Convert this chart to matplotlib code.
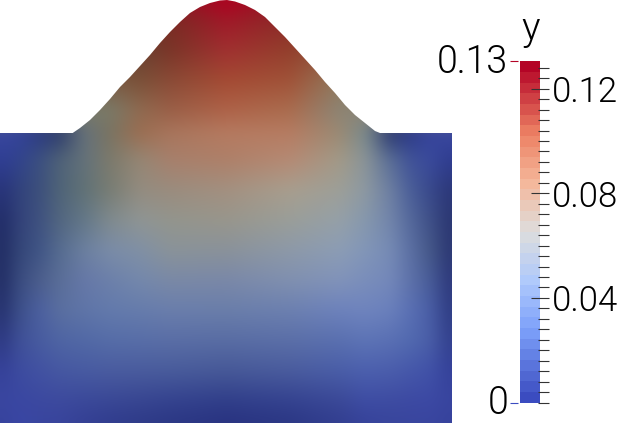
import numpy as np
import matplotlib
matplotlib.use("Agg")
import matplotlib.pyplot as plt
from matplotlib.colors import LinearSegmentedColormap, to_rgb
from matplotlib.patches import Polygon

W, H = 617, 423
FONT = "Roboto"
WEIGHT = 300

# Field colours (rows top to bottom, columns left to right)
field_x = [0, 20, 40, 60, 85, 110, 140, 170, 226, 290, 340, 365, 390, 410, 430, 452]
field_y = [0, 20, 50, 80, 110, 133, 160, 190, 220, 250, 280, 310, 340, 370, 400, 423]
field_hex = [
    "#6a3a28 #6a3a28 #6a3a28 #6a3a28 #6a3a28 #6a3a28 #6a3a28 #8c1a26 #b00020 #8c1a26 #7a4a30 #7a4a30 #7a4a30 #7a4a30 #7a4a30 #7a4a30",
    "#6a3a28 #6a3a28 #6a3a28 #6a3a28 #6a3a28 #6a3a28 #6a3a28 #7a2a24 #a01828 #8a2c28 #7a4a30 #7a4a30 #7a4a30 #7a4a30 #7a4a30 #7a4a30",
    "#6a4030 #6a4030 #6a4030 #6a4030 #6a4030 #6a4030 #6a4030 #7a3528 #a03030 #933f2c #8f5a40 #8f5a40 #8f5a40 #8f5a40 #8f5a40 #8f5a40",
    "#7a5a42 #7a5a42 #7a5a42 #7a5a42 #7a5a42 #7a5a42 #7a5038 #8a4a36 #a44a33 #a05238 #907a5c #907a5c #907a5c #907a5c #907a5c #907a5c",
    "#7a7a68 #7a7a68 #7a7a68 #7a7a68 #7a7a68 #7a7a68 #8f6a50 #9a5f47 #ae6248 #aa6c4e #8c8474 #8c8474 #8c8474 #8c8474 #8c8474 #8c8474",
    "#3a48a0 #33429a #2c3b82 #2e3d6c #65717a #7a7462 #9b6e52 #a8755c #b57a60 #b67c62 #9a8a74 #7a8a8c #2c3a70 #2c3a88 #36449c #3a48a0",
    "#2f3d95 #32448c #3c5080 #4f6278 #64727a #7c7a6c #958674 #a7806c #ae8069 #b58a74 #a29a88 #8a9498 #5a6e96 #415398 #3a4a9c #2e3b8e",
    "#26317a #32437c #3d507c #4f6478 #617276 #787d74 #938c80 #9a8c7e #a39080 #a89e8e #9d9f98 #8d99a2 #6d7fa2 #4b5f99 #39498c #2a3576",
    "#1f2a66 #33427a #3f5280 #526680 #647888 #7f8a8e #8f9594 #93958d #98968c #9a9e99 #95a0a8 #8698ad #7285ab #55699c #3f5088 #28336f",
    "#1f2a62 #344678 #405586 #566c90 #6c80a0 #7a8ca8 #8090a5 #8a9399 #8a929a #8d99a8 #8c9db5 #8296b8 #768bb5 #5c70a4 #455888 #283370",
    "#1f2a62 #3a4c80 #4c5e8c #5a6e98 #6678a8 #6c80aa #7488ac #7a89a6 #7a88a8 #8090b0 #8193ba #7a8ebb #7488ba #5e72aa #485c98 #2a3478",
    "#232e6c #3d508a #4c60a0 #5a6fa0 #5f75a8 #637aac #667cac #6a7eac #6a7eaa #6c80b0 #6d82bc #6f84be #6a80bc #5a70b4 #4a5ea6 #2b387f",
    "#2b3680 #3f5098 #485ca0 #4f65a4 #5269a6 #566da8 #586ea8 #5a6ea6 #596da4 #5b6fa8 #5a70b0 #5d74b6 #5a70b4 #526ab0 #4a5ea8 #2f3c8a",
    "#343f98 #3d4ca0 #4252a2 #4658a2 #485ba2 #4a5ca0 #4a5c9e #495c9c #475998 #4a5c9e #4a5ea8 #4c60ae #4b5eac #4658aa #4152a8 #333f98",
    "#3a46a0 #3a47a2 #3c49a0 #3d4a9e #3b499a #3a4896 #384692 #35438f #313f8a #354390 #3b4998 #3e4da4 #3e4ca2 #3d4aa3 #3c49a4 #38449e",
    "#36429c #3a46a4 #39459f #38449c #343f94 #303c8e #2e3a88 #2b3784 #283280 #2b3784 #323e90 #36429a #38459c #39459e #39459f #36429c",
]

# Outline of the deformed top edge, read point by point
outline_x = [0, 72.7, 80, 90, 100, 110, 120, 130, 140, 150, 160, 170, 180, 190, 200, 210, 220, 227,
             235, 245, 255, 265, 275, 285, 295, 305, 315, 325, 335, 345, 355, 365, 375, 380, 452]
outline_y = [133, 133, 128, 120, 110, 99, 87, 77, 66, 55, 43, 32, 22, 13, 7, 3, 0.5, 0,
             1.5, 5, 10, 17, 27, 37, 48, 59, 70, 82, 93, 105, 115, 123, 131, 133, 133]

# Colour bar
y_max = 0.1304
bar_levels = 32
bar_stops = [0.0, 0.2, 0.35, 0.5, 0.65, 0.8, 1.0]
bar_colors = ["#3b4cc0", "#7b9ff9", "#aec9fc", "#dddddd", "#f5b79a", "#ec7f63", "#b40426"]
major_ticks = [0.04, 0.08, 0.12]
major_labels = ["0.04", "0.08", "0.12"]
minor_step_count = 33
title = "y"
range_labels = ["0", "0.13"]

fig = plt.figure(figsize=(W / 100, H / 100), dpi=100)
fig.patch.set_facecolor("white")

# ---- field ----
ax = fig.add_axes([0, 0, 452 / W, 1])
rgb = np.array([[to_rgb(c) for c in row.split()] for row in field_hex])

# resample the sampled colours onto a pixel raster and soften them
px = np.arange(452) + 0.5
py = np.arange(423) + 0.5
cols = np.stack([np.interp(px, field_x, rgb[i, :, k]) for i in range(rgb.shape[0]) for k in range(3)])
cols = cols.reshape(rgb.shape[0], 3, -1)
img = np.stack([[np.interp(py, field_y, cols[:, k, j]) for j in range(px.size)] for k in range(3)], axis=-1)
img = img.transpose(1, 0, 2)
sigma = 6.0
r = int(3 * sigma)
kernel = np.exp(-0.5 * (np.arange(-r, r + 1) / sigma) ** 2)
kernel /= kernel.sum()
def smooth(a, axis):
    return np.apply_along_axis(lambda v: np.convolve(np.pad(v, r, mode="reflect"), kernel, mode="valid"), axis, a)
for k in range(3):
    img[..., k] = smooth(smooth(img[..., k], 0), 1)

im = ax.imshow(img, extent=(0, 452, 423, 0), aspect="auto", interpolation="bilinear")
ax.set_xlim(0, 452)
ax.set_ylim(423, 0)
ax.axis("off")
poly = Polygon(list(zip(outline_x, outline_y)) + [(452, 423), (0, 423)],
               closed=True, transform=ax.transData, facecolor="none", edgecolor="none")
ax.add_patch(poly)
im.set_clip_path(poly)

# ---- colour bar ----
px_top, px_bot = 61.5, 402.5
cax = fig.add_axes([520 / W, 1 - px_bot / H, 29 / W, (px_bot - px_top) / H])
cax.set_xlim(0, 29)
cax.set_ylim(0, y_max)
for s in cax.spines.values():
    s.set_visible(False)
cmap = LinearSegmentedColormap.from_list("cw", list(zip(bar_stops, bar_colors)), N=bar_levels)
edges = np.linspace(0, y_max, bar_levels + 1)
cax.pcolormesh([0, 20], edges, (edges[:-1] + edges[1:])[:, None] / 2, cmap=cmap,
               vmin=0, vmax=y_max, shading="flat")
cax.set_xticks([])
cax.yaxis.tick_right()
cax.set_yticks(major_ticks)
cax.set_yticklabels(major_labels, fontsize=25, family=FONT, weight=WEIGHT, color="black")
cax.set_yticks(np.arange(minor_step_count) * 0.004, minor=True)
cax.tick_params(axis="y", which="major", direction="in", length=18 * .72, width=0.8,
                color="#333333", pad=3 * .72, right=True, left=False)
cax.tick_params(axis="y", which="minor", direction="in", length=11 * .72, width=0.8,
                color="#333333", right=True, left=False)
cax.set_zorder(3)

# Range markers on the left of the bar
cax.plot([-10, -2], [0, 0], color="#3b4cc0", lw=0.8, clip_on=False, solid_capstyle="butt")
cax.plot([-10, -2], [y_max, y_max], color="#b40426", lw=0.8, clip_on=False, solid_capstyle="butt")
cax.text(-12, -0.0001, range_labels[0], ha="right", va="center", fontsize=27, family=FONT, weight=WEIGHT)
cax.text(-12, y_max - 0.0001, range_labels[1], ha="right", va="center", fontsize=27, family=FONT, weight=WEIGHT)
fig.text(531 / W, 1 - 29 / H, title, ha="center", va="center", fontsize=28, family=FONT, weight=WEIGHT)

fig.savefig("out.png", dpi=100)
